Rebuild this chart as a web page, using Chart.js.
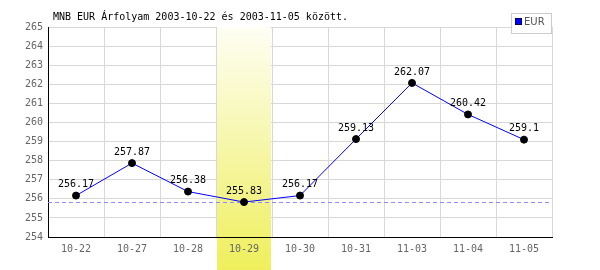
<!DOCTYPE html>
<html><head><meta charset="utf-8">
<script src="https://cdn.jsdelivr.net/npm/chart.js@4"></script>
<style>html,body{margin:0;padding:0;background:#fff}#c{display:block}</style>
</head><body>
<canvas id="c" width="600" height="270"></canvas>
<script>
const titleText = 'MNB EUR Árfolyam 2003-10-22 és 2003-11-05 között.';
const categories = ['10-22','10-27','10-28','10-29','10-30','10-31','11-03','11-04','11-05'];
const eurValues = [256.17, 257.87, 256.38, 255.83, 256.17, 259.13, 262.07, 260.42, 259.1];
const yMin = 254, yMax = 265, yStep = 1;
const highlightCategory = '10-29';
const seriesName = 'EUR';

const MONO = "'DejaVu Sans Mono', monospace";

const decorPlugin = {
  id: 'decor',
  beforeDatasetsDraw(chart) {
    const {ctx, chartArea, scales} = chart;
    const xs = scales.x, ys = scales.y;
    const idx = categories.indexOf(highlightCategory);
    const w = (chartArea.right - chartArea.left) / categories.length;
    const cx = xs.getPixelForValue(idx);
    const l = cx - w / 2 + 1, r = cx + w / 2 - 1;
    const g = ctx.createLinearGradient(0, chartArea.top, 0, chart.height);
    g.addColorStop(0, '#fefef4');
    g.addColorStop(1, '#efef5c');
    ctx.save();
    ctx.fillStyle = g;
    ctx.fillRect(l, chartArea.top, r - l, chart.height - chartArea.top);
    // min reference line
    const minV = Math.min(...eurValues);
    const y = Math.round(ys.getPixelForValue(minV)) + 0.5;
    ctx.strokeStyle = '#8c8cff';
    ctx.lineWidth = 1;
    ctx.setLineDash([4, 3]);
    ctx.beginPath();
    ctx.moveTo(chartArea.left, y);
    ctx.lineTo(chartArea.right, y);
    ctx.stroke();
    ctx.restore();
  },
  afterDatasetsDraw(chart) {
    const {ctx} = chart;
    const meta = chart.getDatasetMeta(0);
    ctx.save();
    ctx.font = '10px ' + MONO;
    ctx.fillStyle = '#000';
    ctx.textAlign = 'center';
    ctx.textBaseline = 'middle';
    meta.data.forEach((pt, i) => {
      ctx.fillText(String(eurValues[i]), pt.x, pt.y - 11);
    });
    ctx.restore();
  },
  afterDraw(chart) {
    const {ctx} = chart;
    ctx.save();
    // title
    ctx.font = '10px ' + MONO;
    ctx.fillStyle = '#000';
    ctx.textBaseline = 'middle';
    ctx.textAlign = 'left';
    ctx.fillText(titleText, 53, 17);
    // legend
    ctx.fillStyle = '#fff';
    ctx.fillRect(511, 13, 41, 20);
    ctx.strokeStyle = '#cccccc';
    ctx.lineWidth = 1;
    ctx.strokeRect(511.5, 13.5, 40, 20);
    ctx.fillStyle = '#0000ff';
    ctx.fillRect(516, 19, 6, 6);
    ctx.strokeStyle = '#000066';
    ctx.strokeRect(515.5, 18.5, 6, 6);
    ctx.fillStyle = '#555';
    ctx.font = "10px 'DejaVu Sans', sans-serif";
    ctx.fillText(seriesName, 524, 22);
    ctx.restore();
  }
};

new Chart(document.getElementById('c'), {
  type: 'line',
  data: {
    labels: categories,
    datasets: [{
      label: seriesName,
      data: eurValues,
      borderColor: '#0000ff',
      borderWidth: 1,
      pointRadius: 3.5,
      pointBackgroundColor: '#000',
      pointBorderColor: '#000',
      pointBorderWidth: 1,
      tension: 0,
      fill: false,
      clip: false
    }]
  },
  options: {
    responsive: false,
    devicePixelRatio: 1,
    animation: false,
    events: [],
    layout: {padding: {top: 27, right: 48, bottom: 0, left: 0}},
    plugins: {legend: {display: false}, title: {display: false}, tooltip: {enabled: false}},
    scales: {
      x: {
        type: 'category',
        offset: true,
        grid: {color: '#d8d8d8', lineWidth: 1, drawTicks: false, offset: true, z: -1},
        border: {display: true, color: '#000', width: 1, z: 1},
        ticks: {color: '#666', font: {family: MONO, size: 10}, padding: 6, maxRotation: 0, z: 1},
        afterFit(s) { s.height = 33; }
      },
      y: {
        min: yMin, max: yMax,
        grid: {color: '#d8d8d8', lineWidth: 1, drawTicks: false},
        border: {display: true, color: '#000', width: 1},
        ticks: {stepSize: yStep, color: '#666', font: {family: MONO, size: 10}, padding: 5},
        afterFit(s) { s.width = 48; }
      }
    }
  },
  plugins: [decorPlugin]
});
</script>
</body></html>
